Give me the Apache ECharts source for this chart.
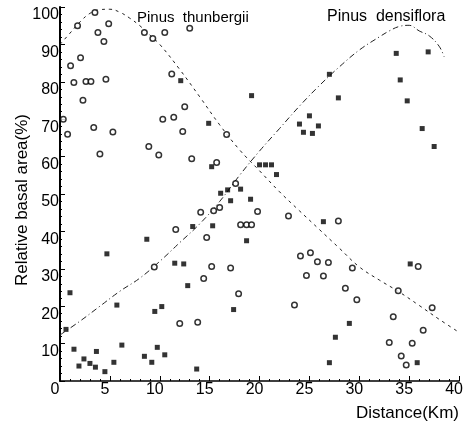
<!DOCTYPE html>
<html>
<head>
<meta charset="utf-8">
<script src="https://cdn.jsdelivr.net/npm/echarts@6/dist/echarts.min.js"></script>
<style>
  html, body { margin: 0; padding: 0; background: #fff; }
  #chart { width: 466px; height: 427px; }
</style>
</head>
<body>
<div id="chart"></div>
<script>
// Relative basal area of the two pine species against distance from the coast.

// Pinus thunbergii plots (open circles)
const thunbergiiDist = [3.5, 1.76, 4.88, 3.8, 4.4, 2.06, 1.06, 1.39, 2.6, 3.1, 4.6, 2.3, 0.33, 0.76, 3.38, 5.3,
  8.46, 9.3, 10.5, 13.0, 11.2, 12.5, 10.3, 11.4, 12.3, 16.7, 4.0, 8.9, 9.9, 9.45, 13.2, 15.7, 17.6,
  16.0, 15.4, 14.1, 19.8, 22.9, 18.1, 18.7, 19.2, 11.6, 14.7, 24.1, 15.2, 17.1, 27.9, 25.1, 25.8,
  26.9, 29.3, 35.9, 24.7, 14.4, 17.9, 23.5, 12.0, 13.8, 26.4, 28.6, 29.75, 33.9, 37.3, 33.4, 36.4,
  33.0, 35.3, 34.2, 34.7];
const thunbergiiArea = [98.5, 95.0, 95.5, 93.2, 90.8, 86.4, 84.3, 79.8, 80.1, 80.1, 80.7, 75.1, 70.0, 66.0, 67.8, 66.6,
  93.2, 91.6, 93.2, 94.3, 82.1, 73.3, 70.0, 70.5, 66.7, 65.9, 60.7, 62.7, 60.4, 30.5, 59.4, 58.4, 52.8,
  46.4, 45.5, 45.1, 45.3, 44.1, 41.8, 41.8, 41.8, 40.5, 38.4, 33.4, 30.6, 30.2, 42.8, 34.3, 31.9,
  31.7, 30.2, 30.6, 28.2, 27.4, 23.3, 20.3, 15.4, 15.7, 28.1, 24.8, 21.7, 24.1, 19.6, 17.2, 13.6,
  10.3, 10.1, 6.7, 4.3];

// Pinus densiflora plots (filled squares)
const densifloraDist = [12.1, 19.2, 14.9, 24.0, 24.4, 33.7, 36.9, 27.0, 34.1, 27.9, 34.8, 25.0, 25.9, 25.3, 36.3, 37.5,
  8.7, 4.7, 15.2, 20.0, 20.6, 21.2, 21.7, 18.1, 16.8, 16.1, 17.1, 19.1, 13.3, 15.3, 18.7, 11.5, 12.4,
  26.4, 35.1, 1.0, 5.7, 0.6, 1.4, 1.9, 2.4, 3.0, 3.65, 3.55, 4.5, 5.4, 6.2, 8.46, 9.2, 9.5, 9.75,
  10.2, 17.4, 10.5, 13.7, 12.8, 29.0, 27.6, 27.0, 35.8];
const densifloraArea = [80.3, 76.3, 68.9, 68.7, 66.5, 87.6, 88.0, 82.0, 80.5, 75.7, 74.9, 70.9, 68.2, 66.2, 67.5, 62.7,
  37.9, 34.0, 57.3, 57.8, 57.8, 57.8, 55.2, 51.3, 51.1, 50.2, 48.2, 48.6, 41.3, 41.5, 37.5, 31.5, 31.3,
  42.6, 31.3, 23.6, 20.3, 13.8, 8.5, 4.0, 5.9, 4.7, 7.9, 3.7, 2.5, 5.0, 9.6, 6.6, 5.0, 18.6, 9.0,
  19.9, 19.1, 7.0, 3.2, 25.5, 15.4, 11.7, 4.9, 4.9];

// Fitted trend curves
const thunbergiiCurveDist = [0, 1, 2, 3, 4, 5, 6, 7, 8, 9, 10, 12, 14, 16, 18, 20, 22, 24, 26, 28, 30, 32, 34, 36, 38, 40];
const thunbergiiCurveArea = [90, 93, 96, 98.3, 99.3, 99.4, 98.6, 97, 95, 92.5, 90, 83.3, 76, 68.5, 61.8, 56.2, 50.6, 45.5, 40.5, 35.5, 30.5, 27, 23.8, 20.2, 16.5, 13];
const densifloraCurveDist = [0, 2, 4, 6, 8, 10, 12, 14, 16, 18, 20, 22, 24, 26, 28, 30, 32, 33, 34, 35, 36, 37, 38, 38.5];
const densifloraCurveArea = [12.3, 16, 20, 24, 27.5, 32, 37, 42, 48, 55, 61.5, 67.5, 73.5, 79, 84, 88.5, 92, 93.6, 94.8, 95.1, 93.6, 92.3, 89.5, 86.7];

// Axis tick labels
const distTicks = ['0', '5', '10', '15', '20', '25', '30', '35', '40'];
const areaTicks = ['', '10', '20', '30', '40', '50', '60', '70', '80', '90', '100'];

const zip = (xs, ys) => xs.map((x, i) => [x, ys[i]]);

const FONT = 'Liberation Sans';
const chart = echarts.init(document.getElementById('chart'), null, { renderer: 'canvas' });

chart.setOption({
  animation: false,
  backgroundColor: '#fff',
  grid: { left: 60, right: 4, top: 7, bottom: 46, containLabel: false },
  xAxis: {
    type: 'value', min: 0, max: 40, interval: 5,
    axisLine: { show: true, lineStyle: { color: '#000', width: 1.5 } },
    axisTick: { show: true, inside: true, length: 5, lineStyle: { color: '#000', width: 1 } },
    minorTick: { show: true, splitNumber: 5, length: 2, lineStyle: { color: '#000', width: 1 } },
    splitLine: { show: false },
    axisLabel: {
      color: '#000', fontFamily: FONT, fontSize: 16, margin: 1, padding: [0, 10, 0, 0],
      formatter: v => distTicks[Math.round(v / 5)]
    }
  },
  yAxis: {
    type: 'value', min: 0, max: 100, interval: 10,
    axisLine: { show: true, lineStyle: { color: '#000', width: 2 } },
    axisTick: { show: true, inside: true, length: 5, lineStyle: { color: '#000', width: 1 } },
    minorTick: { show: true, splitNumber: 5, length: 2, lineStyle: { color: '#000', width: 1 } },
    splitLine: { show: false },
    axisLabel: {
      color: '#000', fontFamily: FONT, fontSize: 16, margin: 1, verticalAlign: 'top',
      showMinLabel: false,
      formatter: v => areaTicks[Math.round(v / 10)]
    }
  },
  graphic: [
    { type: 'text', left: 137, top: 10, style: { text: 'Pinus  thunbergii', font: '15px "' + FONT + '"', fill: '#000' } },
    { type: 'text', left: 327, top: 9, style: { text: 'Pinus  densiflora', font: '16px "' + FONT + '"', fill: '#000' } },
    { type: 'text', left: 356, top: 405, style: { text: 'Distance(Km)', font: '17px "' + FONT + '"', fill: '#000' } },
    {
      type: 'text', x: 22, y: 200, rotation: Math.PI / 2,
      style: { text: 'Relative basal area(%)', font: '17px "' + FONT + '"', fill: '#000', align: 'center', verticalAlign: 'middle' }
    }
  ],
  series: [
    {
      type: 'line', data: zip(thunbergiiCurveDist, thunbergiiCurveArea), smooth: 0.4, symbol: 'none',
      lineStyle: { color: '#222', width: 1, type: [3, 4] }, z: 1
    },
    {
      type: 'line', data: zip(densifloraCurveDist, densifloraCurveArea), smooth: 0.4, symbol: 'none',
      lineStyle: { color: '#222', width: 1, type: [6, 3, 1, 3] }, z: 1
    },
    {
      type: 'scatter', data: zip(thunbergiiDist, thunbergiiArea), symbol: 'circle', symbolSize: 5.5,
      itemStyle: { color: '#fff', borderColor: '#000', borderWidth: 1.5 }, z: 3
    },
    {
      type: 'scatter', data: zip(densifloraDist, densifloraArea), symbol: 'rect', symbolSize: 5,
      itemStyle: { color: '#000' }, z: 3
    }
  ]
});
</script>
</body>
</html>
